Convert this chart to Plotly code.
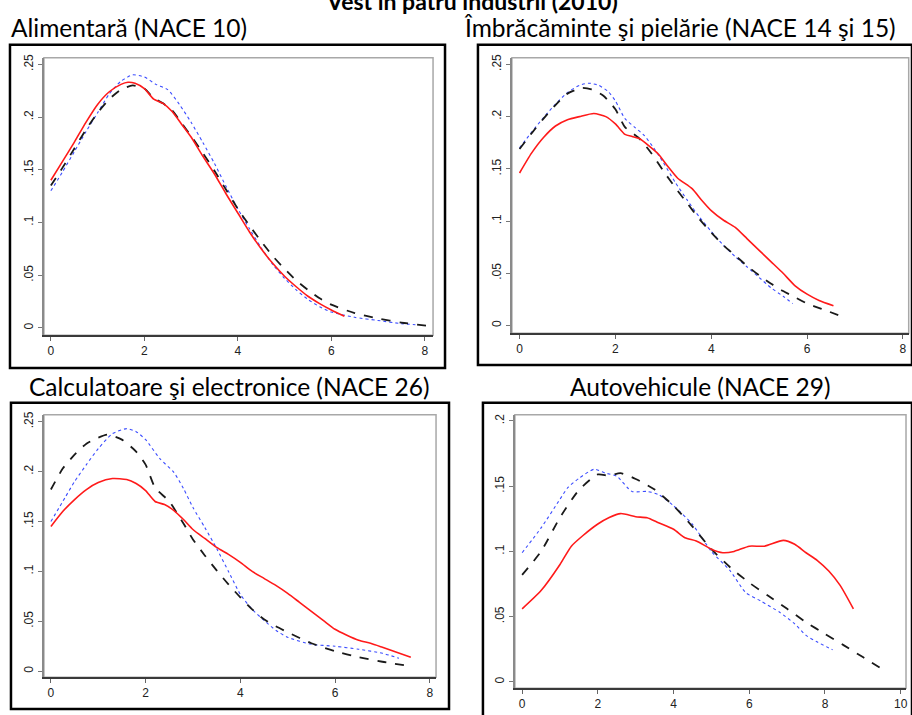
import plotly.graph_objects as go

W, H = 912, 715

# ---------------- data ----------------
titles = ["Alimentară (NACE 10)", "Îmbrăcăminte şi pielărie (NACE 14 şi 15)",
          "Calculatoare şi electronice (NACE 26)", "Autovehicule (NACE 29)"]
main_title = "Vest în patru industrii (2010)"

# Panel 1 - Alimentara
p1_red_x = [0, 0.25, 0.5, 0.75, 1, 1.25, 1.5, 1.65, 1.8, 2, 2.2, 2.4, 2.6, 2.8, 3, 3.25, 3.5, 3.75, 4, 4.25, 4.5, 4.75, 5, 5.25, 5.5, 5.75, 6, 6.28]
p1_red_y = [0.140, 0.158, 0.176, 0.195, 0.212, 0.224, 0.231, 0.233, 0.232, 0.227, 0.217, 0.213, 0.205, 0.193, 0.181, 0.163, 0.146, 0.127, 0.109, 0.091, 0.075, 0.061, 0.049, 0.039, 0.030, 0.023, 0.017, 0.011]
p1_blk_x = [0, 0.25, 0.5, 0.75, 1, 1.25, 1.5, 1.75, 2, 2.2, 2.4, 2.6, 2.8, 3, 3.25, 3.5, 3.75, 4, 4.25, 4.5, 4.75, 5, 5.25, 5.5, 5.75, 6, 6.5, 7, 7.5, 8.05]
p1_blk_y = [0.135, 0.152, 0.170, 0.188, 0.204, 0.217, 0.226, 0.230, 0.227, 0.218, 0.213, 0.206, 0.194, 0.182, 0.166, 0.149, 0.131, 0.113, 0.097, 0.082, 0.068, 0.056, 0.045, 0.036, 0.028, 0.022, 0.014, 0.009, 0.005, 0.002]
p1_blu_x = [0, 0.25, 0.5, 0.75, 1, 1.25, 1.5, 1.75, 2, 2.25, 2.5, 2.75, 3, 3.25, 3.5, 3.75, 4, 4.25, 4.5, 4.75, 5, 5.25, 5.5, 5.75, 6, 6.5, 7, 7.5, 7.8]
p1_blu_y = [0.130, 0.148, 0.167, 0.186, 0.204, 0.222, 0.234, 0.240, 0.238, 0.231, 0.226, 0.212, 0.195, 0.176, 0.156, 0.134, 0.113, 0.094, 0.076, 0.060, 0.047, 0.036, 0.027, 0.020, 0.015, 0.010, 0.007, 0.004, 0.003]

# Panel 2 - Imbracaminte
p2_red_x = [0, 0.25, 0.5, 0.75, 1, 1.25, 1.55, 1.8, 2, 2.2, 2.35, 2.5, 2.7, 2.9, 3.1, 3.3, 3.6, 3.8, 4, 4.25, 4.5, 4.75, 5, 5.25, 5.5, 5.75, 6, 6.25, 6.55]
p2_red_y = [0.146, 0.165, 0.180, 0.191, 0.197, 0.200, 0.203, 0.200, 0.193, 0.183, 0.181, 0.179, 0.172, 0.164, 0.152, 0.141, 0.131, 0.120, 0.110, 0.101, 0.094, 0.083, 0.072, 0.061, 0.050, 0.038, 0.030, 0.024, 0.019]
p2_blk_x = [0, 0.25, 0.5, 0.75, 1, 1.3, 1.5, 1.75, 2, 2.2, 2.5, 2.75, 3, 3.25, 3.5, 3.75, 4, 4.25, 4.5, 4.75, 5, 5.25, 5.5, 5.75, 6, 6.3, 6.65]
p2_blk_y = [0.169, 0.184, 0.198, 0.211, 0.222, 0.2275, 0.226, 0.220, 0.207, 0.190, 0.179, 0.165, 0.148, 0.132, 0.117, 0.102, 0.089, 0.077, 0.067, 0.057, 0.048, 0.040, 0.033, 0.027, 0.021, 0.016, 0.010]
p2_blu_x = [0, 0.25, 0.5, 0.75, 1, 1.25, 1.45, 1.65, 1.85, 2, 2.2, 2.4, 2.6, 2.8, 3, 3.25, 3.5, 3.75, 4, 4.25, 4.5, 4.75, 5, 5.25, 5.5, 5.7]
p2_blu_y = [0.170, 0.185, 0.199, 0.212, 0.223, 0.230, 0.232, 0.230, 0.224, 0.215, 0.198, 0.190, 0.182, 0.170, 0.156, 0.137, 0.120, 0.104, 0.090, 0.077, 0.066, 0.056, 0.046, 0.036, 0.028, 0.021]

# Panel 3 - Calculatoare
p3_red_x = [0, 0.25, 0.5, 0.75, 1, 1.3, 1.6, 1.8, 2, 2.2, 2.4, 2.6, 2.8, 3, 3.25, 3.5, 3.75, 4, 4.25, 4.5, 4.75, 5, 5.25, 5.5, 5.75, 6, 6.25, 6.5, 6.75, 7, 7.3, 7.6]
p3_red_y = [0.145, 0.160, 0.172, 0.182, 0.189, 0.193, 0.192, 0.188, 0.181, 0.170, 0.167, 0.161, 0.152, 0.142, 0.133, 0.124, 0.117, 0.109, 0.100, 0.093, 0.086, 0.078, 0.069, 0.060, 0.051, 0.042, 0.036, 0.031, 0.028, 0.024, 0.019, 0.014]
p3_blk_x = [0, 0.25, 0.5, 0.75, 1, 1.2, 1.5, 1.8, 2, 2.2, 2.5, 2.8, 3, 3.25, 3.5, 3.75, 4, 4.25, 4.5, 4.75, 5, 5.5, 6, 6.5, 7, 7.6]
p3_blk_y = [0.182, 0.203, 0.217, 0.228, 0.234, 0.237, 0.232, 0.220, 0.207, 0.184, 0.170, 0.148, 0.132, 0.116, 0.101, 0.087, 0.074, 0.062, 0.052, 0.045, 0.039, 0.028, 0.020, 0.014, 0.0095, 0.005]
p3_blu_x = [0, 0.3, 0.5, 0.75, 1, 1.3, 1.6, 1.8, 2, 2.3, 2.6, 2.8, 3, 3.25, 3.5, 3.75, 4, 4.25, 4.5, 4.75, 5, 5.5, 6, 6.5, 7, 7.35]
p3_blu_y = [0.150, 0.174, 0.190, 0.207, 0.223, 0.238, 0.243, 0.240, 0.232, 0.213, 0.199, 0.183, 0.164, 0.144, 0.123, 0.100, 0.077, 0.062, 0.051, 0.041, 0.034, 0.027, 0.025, 0.022, 0.018, 0.013]

# Panel 4 - Autovehicule
p4_red_x = [0, 0.5, 1, 1.3, 1.6, 2, 2.3, 2.6, 3, 3.3, 3.6, 4, 4.3, 4.6, 5, 5.3, 5.6, 6, 6.4, 6.9, 7.2, 7.5, 7.8, 8.1, 8.4, 8.75]
p4_red_y = [0.056, 0.070, 0.090, 0.104, 0.112, 0.121, 0.126, 0.129, 0.1266, 0.1258, 0.122, 0.117, 0.1105, 0.108, 0.1017, 0.099, 0.100, 0.104, 0.104, 0.1085, 0.1055, 0.099, 0.093, 0.085, 0.074, 0.056]
p4_blk_x = [0, 0.5, 1, 1.5, 2, 2.3, 2.6, 3, 3.5, 4, 4.5, 5, 5.5, 6, 6.5, 7, 7.5, 8, 8.5, 9, 9.5]
p4_blk_y = [0.082, 0.100, 0.126, 0.147, 0.159, 0.158, 0.160, 0.1555, 0.1474, 0.135, 0.119, 0.1017, 0.0877, 0.076, 0.066, 0.056, 0.0457, 0.0368, 0.028, 0.019, 0.010]
p4_blu_x = [0, 0.5, 1, 1.2, 1.5, 1.9, 2.2, 2.5, 2.9, 3.3, 3.6, 4, 4.5, 5, 5.5, 5.9, 6.3, 6.8, 7.2, 7.5, 7.8, 8.2]
p4_blu_y = [0.099, 0.118, 0.140, 0.1487, 0.156, 0.163, 0.160, 0.1576, 0.146, 0.146, 0.1436, 0.135, 0.1207, 0.100, 0.085, 0.0686, 0.062, 0.0534, 0.0445, 0.0356, 0.0305, 0.0246]

x_ticks_8 = [0, 2, 4, 6, 8]
x_ticks_10 = [0, 2, 4, 6, 8, 10]
y_ticks_25 = [0, 0.05, 0.1, 0.15, 0.2, 0.25]
y_ticklbl_25 = ["0", ".05", ".1", ".15", ".2", ".25"]
y_ticks_20 = [0, 0.05, 0.1, 0.15, 0.2]
y_ticklbl_20 = ["0", ".05", ".1", ".15", ".2"]

# ---------------- layout geometry (pixels) ----------------
panels = [
    dict(px=(44, 434, 54, 333), xr=(-0.149, 8.177), yr=(-0.0069, 0.2563),
         xt=x_ticks_8, yt=y_ticks_25, ytl=y_ticklbl_25,
         data=[(p1_blu_x, p1_blu_y), (p1_blk_x, p1_blk_y), (p1_red_x, p1_red_y)]),
    dict(px=(513, 910.7, 54, 331), xr=(-0.16, 8.12), yr=(-0.0073, 0.2564),
         xt=x_ticks_8, yt=y_ticks_25, ytl=y_ticklbl_25,
         data=[(p2_blu_x, p2_blu_y), (p2_blk_x, p2_blk_y), (p2_red_x, p2_red_y)]),
    dict(px=(44, 437, 413, 677), xr=(-0.1475, 8.133), yr=(-0.006, 0.257),
         xt=x_ticks_8, yt=y_ticks_25, ytl=y_ticklbl_25,
         data=[(p3_blu_x, p3_blu_y), (p3_blk_x, p3_blk_y), (p3_red_x, p3_red_y)]),
    dict(px=(516, 908, 413, 688), xr=(-0.192, 10.14), yr=(-0.0048, 0.2048),
         xt=x_ticks_10, yt=y_ticks_20, ytl=y_ticklbl_20,
         data=[(p4_blu_x, p4_blu_y), (p4_blk_x, p4_blk_y), (p4_red_x, p4_red_y)]),
]

styles = [
    dict(color="#3b4cff", width=1.1, dash="dot"),
    dict(color="#1a1a1a", width=1.8, dash="dash"),
    dict(color="#ff1a1a", width=1.6, dash="solid"),
]

fig = go.Figure()
layout = dict(width=W, height=H, margin=dict(l=0, r=0, t=0, b=0),
              paper_bgcolor="white", plot_bgcolor="white", showlegend=False)
shapes = []
annotations = []

tickfont = dict(family="Liberation Sans, Arial", size=12, color="#222")

for i, p in enumerate(panels):
    n = i + 1
    xa = "xaxis" if n == 1 else f"xaxis{n}"
    ya = "yaxis" if n == 1 else f"yaxis{n}"
    xr_ = "x" if n == 1 else f"x{n}"
    yr_ = "y" if n == 1 else f"y{n}"
    l, r, t, b = p["px"]
    layout[xa] = dict(domain=[l / W, r / W], range=list(p["xr"]), anchor=yr_,
                      tickvals=p["xt"], ticks="outside", ticklen=4, tickcolor="#666",
                      showgrid=False, zeroline=False, showline=True, linecolor="#3a3a3a",
                      linewidth=1.5, tickfont=tickfont, fixedrange=True)
    layout[ya] = dict(domain=[1 - b / H, 1 - t / H], range=list(p["yr"]), anchor=xr_,
                      tickvals=p["yt"], ticktext=p["ytl"], tickangle=-90,
                      ticks="outside", ticklen=4, tickcolor="#777",
                      showgrid=False, zeroline=False, showline=True, linecolor="#8a8a8a",
                      linewidth=1.5, tickfont=tickfont, fixedrange=True)
    shapes.append(dict(type="rect", xref=f"{xr_} domain", yref=f"{yr_} domain",
                       x0=0, x1=1, y0=0, y1=1, line=dict(color="#a8a8a8", width=1.5),
                       layer="below"))
    for (xs, ys), st in zip(p["data"], styles):
        fig.add_trace(go.Scatter(x=xs, y=ys, mode="lines", xaxis=xr_, yaxis=yr_,
                                 line=dict(color=st["color"], width=st["width"],
                                           dash=st["dash"], shape="spline", smoothing=0.6),
                                 hoverinfo="skip"))

boxes = [(10, 446, 41, 366), (479, 914, 41, 363), (11, 450, 401, 709), (484, 914, 401, 720)]
for (l, r, t, b) in boxes:
    shapes.append(dict(type="rect", xref="paper", yref="paper",
                       x0=l / W, x1=r / W, y0=1 - b / H, y1=1 - t / H,
                       line=dict(color="black", width=2.5)))

title_font = dict(family="Lato, Carlito, Calibri", size=24.5, color="black")
tpos = [(titles[0], 9, 24, "left"), (titles[1], 463, 24, "left"),
        (titles[2], 230, 385, "center"), (titles[3], 702, 385, "center")]
for txt, x, y, anc in tpos:
    annotations.append(dict(text=txt, xref="paper", yref="paper", x=x / W, y=1 - y / H,
                            xanchor=anc, yanchor="middle", showarrow=False, font=title_font))
annotations.append(dict(text="<b>" + main_title + "</b>", xref="paper", yref="paper",
                        x=473 / W, y=1 + 3 / H, xanchor="center", yanchor="middle",
                        showarrow=False, font=dict(family="Lato, Carlito, Calibri", size=23, color="black")))

layout["shapes"] = shapes
layout["annotations"] = annotations
fig.update_layout(**layout)
fig.write_html("out.html")
